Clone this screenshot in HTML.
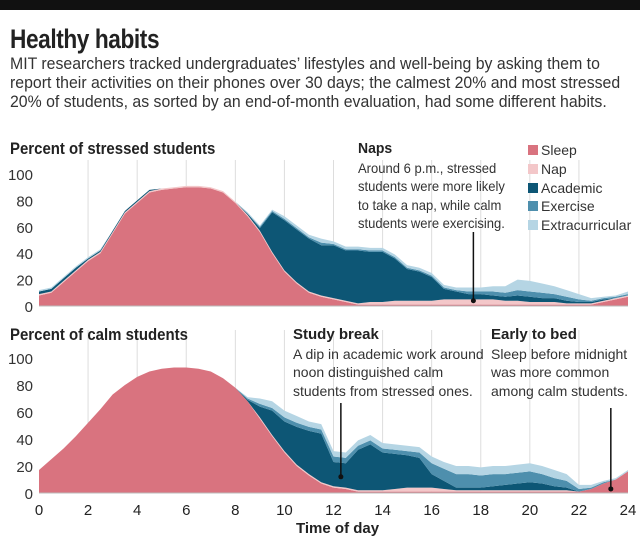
<!DOCTYPE html>
<html><head><meta charset="utf-8"><style>
body{margin:0;background:#fff;width:640px;height:544px;overflow:hidden;font-family:"Liberation Sans Narrow","Liberation Sans",sans-serif;color:#222}
.t{position:absolute;white-space:nowrap;transform-origin:0 0}
</style></head><body>
<div style="position:absolute;left:0;top:0;width:640px;height:10px;background:#111"></div>
<div class="t" style="left:10px;top:24px;font-size:27px;font-weight:bold;letter-spacing:-0.5px;transform:scaleX(0.84)">Healthy habits</div>
<div class="t" style="left:10px;top:55px;font-size:16.5px;line-height:19px;color:#333;transform:scaleX(0.96)">MIT researchers tracked undergraduates’ lifestyles and well-being by asking them to<br>report their activities on their phones over 30 days; the calmest 20% and most stressed<br>20% of students, as sorted by an end-of-month evaluation, had some different habits.</div>
<svg id="c" width="640" height="544" style="position:absolute;left:0;top:0"></svg>
<script>
const hours=[0,0.5,1,1.5,2,2.5,3,3.5,4,4.5,5,5.5,6,6.5,7,7.5,8,8.5,9,9.5,10,10.5,11,11.5,12,12.5,13,13.5,14,14.5,15,15.5,16,16.5,17,17.5,18,18.5,19,19.5,20,20.5,21,21.5,22,22.5,23,23.5,24];
const sSleep=[8,10,18,26,34,40,55,70,78,86,88,89,90,90,89,86,78,68,56,40,26,17,10,7,5,3,1,1,1,1,1,1,1,1,1,1,1,1,1,1,1,1,1,1,1,1,3,5,7];
const sNap=[1,1,1,1,1,1,1,1,1,1,1,1,1,1,1,1,1,1,1,1,1,1,1,1,1,1,1,2,2,3,3,3,3,4,4,4,4,4,3,3,2,2,2,1,1,1,1,1,1];
const sAcad=[2,2,2,2,1,1,1,1,1,1,0,0,0,0,0,0,0,1,2,30,38,40,40,38,40,38,40,38,38,32,24,22,18,8,6,4,4,3,3,4,4,3,3,2,1,1,1,0,0];
const sExer=[0,0,0,0,0,0,0,0,0,0,0,0,0,0,0,0,0,0,1,1,1,1,1,2,1,1,1,1,1,1,1,1,1,1,1,2,2,3,3,4,4,4,3,3,2,1,1,1,1];
const sExtra=[1,1,1,1,1,1,0,0,0,0,0,0,0,0,0,0,0,1,1,1,2,2,2,3,2,2,2,2,2,2,2,2,2,2,2,3,3,4,5,8,8,7,6,5,4,2,1,1,2];
const cSleep=[17,25,33,42,52,62,73,80,86,90,92,93,93,92,90,85,78,68,55,42,30,20,13,7,4,3,1,1,1,1,1,1,1,1,1,1,1,1,1,1,1,1,1,1,1,3,7,10,16];
const cNap=[0,0,0,0,0,0,0,0,0,0,0,0,0,0,0,0,0,0,1,1,1,1,1,1,1,1,1,1,1,2,3,3,3,2,1,1,1,1,1,1,1,1,1,1,0,0,0,0,0];
const cAcad=[0,0,0,0,0,0,0,0,0,0,0,0,0,0,0,0,0,1,8,18,22,28,32,36,18,18,30,34,28,26,24,22,10,6,2,2,2,3,4,5,6,5,3,2,0,0,0,0,0];
const cExer=[0,0,0,0,0,0,0,0,0,0,0,0,0,0,0,0,0,1,2,2,3,3,3,3,4,4,3,3,3,3,3,4,8,9,10,10,9,9,8,8,8,7,6,5,2,1,1,0,0];
const cExtra=[0,0,0,0,0,0,0,0,0,0,0,0,0,0,0,0,0,1,4,5,5,5,4,4,4,4,4,4,4,4,4,4,5,5,6,6,6,6,6,6,6,6,6,5,3,2,1,1,1];
const yTicks=[0,20,40,60,80,100];
const xTicks=[0,2,4,6,8,10,12,14,16,18,20,22,24];
const names=["sleep","nap","academic","exercise","extracurricular"];
const cols=["#d9737f","#f3c7c9","#0d5675","#4e8fad","#b5d5e4"];
const svg=document.getElementById('c');const NS="http://www.w3.org/2000/svg";
const X=h=>39+h*(589/24);
function mk(t,a){const e=document.createElementNS(NS,t);for(const k in a)e.setAttribute(k,a[k]);svg.appendChild(e);return e;}
function panel(id,series,y0,y100,gTop){
  const Y=v=>y0-(y0-y100)*v/100;
  xTicks.forEach(h=>{if(h===0||h===24)return;const l=mk('line',{x1:X(h),x2:X(h),y1:gTop,y2:y0,stroke:'#ddd','stroke-width':1});

});
  let base=hours.map(()=>0);
  series.forEach((s,i)=>{const top=base.map((b,j)=>b+s[j]);
    let d='M'+hours.map((h,j)=>X(h)+','+Y(top[j])).join('L');
    for(let j=hours.length-1;j>=0;j--)d+='L'+X(hours[j])+','+Y(base[j]);
    const p=mk('path',{d:d+'Z',fill:cols[i]});


    base=top;});
  mk('line',{x1:X(0),x2:X(24),y1:y0,y2:y0,stroke:'#bbb'});
  yTicks.forEach(v=>{const t=mk('text',{x:33,y:Y(v)+6,'text-anchor':'end','font-size':15,fill:'#333'});t.textContent=v;

});
  return Y;
}
const Y1=panel('stressed',[sSleep,sNap,sAcad,sExer,sExtra],306,174,160);
const Y2=panel('calm',[cSleep,cNap,cAcad,cExer,cExtra],493,358,330);
xTicks.forEach(h=>{const t=mk('text',{x:X(h),y:515,'text-anchor':'middle','font-size':15,fill:'#222'});t.textContent=h;

});
function callout(h,yTop,yv,Y){mk('line',{x1:X(h),x2:X(h),y1:yTop,y2:Y(yv),stroke:'#111','stroke-width':1.5});const c=mk('circle',{cx:X(h),cy:Y(yv),r:2.5,fill:'#111'});

}
callout(17.7,232,4,Y1);callout(12.3,403,12,Y2);callout(23.3,408,3,Y2);
</script>
<div class="t" style="left:10px;top:139px;font-size:17px;font-weight:bold;transform:scaleX(0.88)">Percent of stressed students</div>
<div class="t" style="left:10px;top:325px;font-size:17px;font-weight:bold;transform:scaleX(0.88)">Percent of calm students</div>
<div class="t" style="left:358px;top:139px;font-size:14px;line-height:18.5px;color:#333;transform:scaleX(0.93)"><b style="font-size:15px;color:#222">Naps</b><br>Around 6 p.m., stressed<br>students were more likely<br>to take a nap, while calm<br>students were exercising.</div>
<div class="t" style="left:293px;top:325px;font-size:14px;line-height:18.5px;color:#333"><b style="font-size:15px;color:#222">Study break</b><br>A dip in academic work around<br>noon distinguished calm<br>students from stressed ones.</div>
<div class="t" style="left:491px;top:325px;font-size:14px;line-height:18.5px;color:#333"><b style="font-size:15px;color:#222">Early to bed</b><br>Sleep before midnight<br>was more common<br>among calm students.</div>
<div style="position:absolute;left:528px;top:141px;font-size:14px;line-height:18.8px;color:#333">
<div><span style="display:inline-block;width:10px;height:10px;background:#d9737f;margin-right:3px"></span>Sleep</div>
<div><span style="display:inline-block;width:10px;height:10px;background:#f3c7c9;margin-right:3px"></span>Nap</div>
<div><span style="display:inline-block;width:10px;height:10px;background:#0d5675;margin-right:3px"></span>Academic</div>
<div><span style="display:inline-block;width:10px;height:10px;background:#4e8fad;margin-right:3px"></span>Exercise</div>
<div><span style="display:inline-block;width:10px;height:10px;background:#b5d5e4;margin-right:3px"></span>Extracurricular</div>
</div>
<div class="t" style="left:296px;top:520px;font-size:15px;font-weight:bold">Time of day</div>
</body></html>
